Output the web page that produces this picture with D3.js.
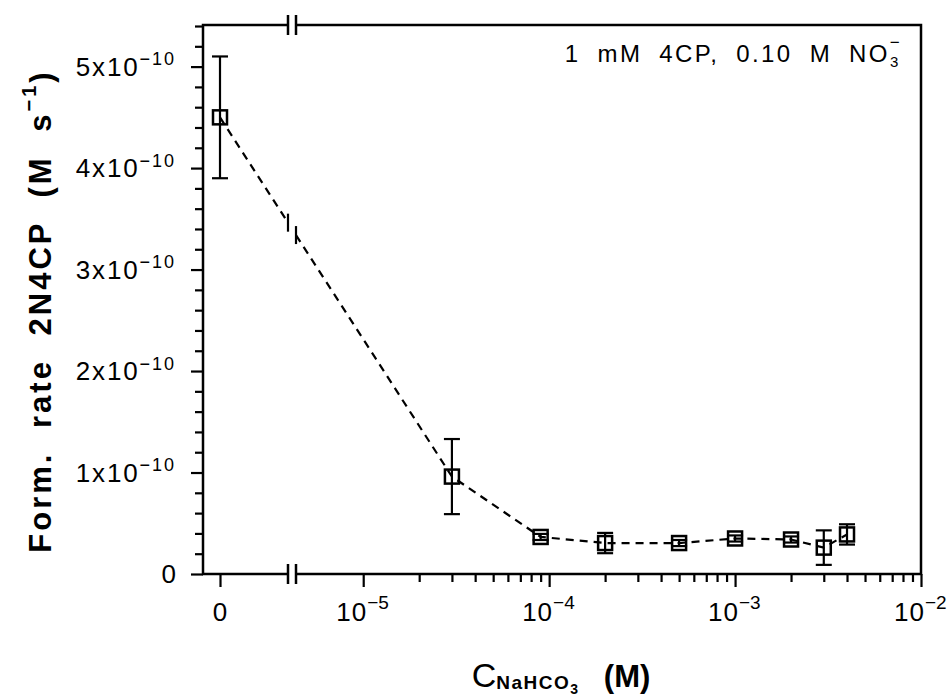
<!DOCTYPE html>
<html>
<head>
<meta charset="utf-8">
<script src="https://cdn.jsdelivr.net/npm/d3@7"></script>
<style>
body { margin: 0; background: #fff; }
</style>
</head>
<body>
<div id="chart"></div>
<script>
// data
var conc = [0, 3e-5, 9e-5, 2e-4, 5e-4, 1e-3, 2e-3, 3e-3, 4e-3];
var rate = [4.5e-10, 0.96e-10, 0.365e-10, 0.305e-10, 0.305e-10, 0.35e-10, 0.34e-10, 0.26e-10, 0.39e-10];
var rateErr = [0.6e-10, 0.37e-10, 0.03e-10, 0.1e-10, 0.03e-10, 0.03e-10, 0.03e-10, 0.17e-10, 0.1e-10];

var yMajor = [0, 1e-10, 2e-10, 3e-10, 4e-10, 5e-10];
var yMajorLabels = ["0", "1", "2", "3", "4", "5"];
var xMajor = [1e-5, 1e-4, 1e-3, 1e-2];
var xMajorExp = ["\u22125", "\u22124", "\u22123", "\u22122"];

var W = 951, H = 697;
var fLeft = 203, fRight = 921, fTop = 25, fBottom = 574;
var breakL = 288, breakR = 296;
var font = "'Liberation Sans', Arial, Helvetica, sans-serif";

var svg = d3.select("#chart").append("svg")
    .attr("width", W)
    .attr("height", H)
    .style("font-family", font);

var y = d3.scaleLinear().domain([0, 5.41e-10]).range([fBottom, fTop]);
var xZero = d3.scaleLinear().domain([-1, 4]).range([fLeft, breakL]);
var xLog = d3.scaleLog().domain([4.35e-6, 1e-2]).range([breakR, fRight]);

function xPos(c) { return c === 0 ? xZero(0) : xLog(c); }

// minor values
var yMinor = d3.range(0, 5.41e-10, 0.2e-10).filter(function(v){
    return Math.abs(v / 1e-10 - Math.round(v / 1e-10)) > 1e-6;
});
var xMinor = [];
[1e-5, 1e-4, 1e-3].forEach(function(d){
    for (var k = 2; k <= 9; k++) xMinor.push(d * k);
});

function styleAxis(g, w) {
    g.select(".domain").remove();
    g.selectAll("line").attr("stroke", "#000").attr("stroke-width", w);
}

// y axis ticks
svg.append("g").attr("transform", "translate(" + fLeft + ",0)")
    .call(d3.axisLeft(y).tickValues(yMinor).tickSize(8).tickFormat(""))
    .call(styleAxis, 2.2);
svg.append("g").attr("transform", "translate(" + fLeft + ",0)")
    .call(d3.axisLeft(y).tickValues(yMajor).tickSize(12).tickFormat(""))
    .call(styleAxis, 2.2);

// x axis ticks
svg.append("g").attr("transform", "translate(0," + fBottom + ")")
    .call(d3.axisBottom(xLog).tickValues(xMinor).tickSize(8).tickFormat(""))
    .call(styleAxis, 2.2);
svg.append("g").attr("transform", "translate(0," + fBottom + ")")
    .call(d3.axisBottom(xLog).tickValues(xMajor).tickSize(13).tickFormat(""))
    .call(styleAxis, 2.2);
svg.append("g").attr("transform", "translate(0," + fBottom + ")")
    .call(d3.axisBottom(xZero).tickValues([0]).tickSize(13).tickFormat(""))
    .call(styleAxis, 2.2);

// frame with axis breaks
var frame = svg.append("g").attr("stroke", "#000").attr("stroke-width", 2.5).attr("fill", "none");
frame.append("path").attr("d",
    "M" + breakL + "," + fTop + "H" + fLeft + "V" + fBottom + "H" + breakL +
    "M" + breakR + "," + fBottom + "H" + fRight + "V" + fTop + "H" + breakR);
[fTop, fBottom].forEach(function(yy){
    [breakL, breakR].forEach(function(xx){
        frame.append("line").attr("x1", xx).attr("x2", xx)
            .attr("y1", yy - 10).attr("y2", yy + 10);
    });
});

// y tick labels
var yl = svg.append("g").attr("font-size", 26).attr("text-anchor", "end");
yMajor.forEach(function(v, i){
    var t = yl.append("text").attr("x", 176).attr("y", y(v)).attr("dy", "0.36em");
    if (v === 0) {
        t.text("0");
    } else {
        t.append("tspan").attr("letter-spacing", 1.8).text(yMajorLabels[i] + "x10");
        t.append("tspan").attr("font-size", 18).attr("dy", "-0.6em").attr("letter-spacing", 2).text("\u221210");
    }
});

// x tick labels
var xl = svg.append("g").attr("font-size", 26);
xl.append("text").attr("x", xZero(0)).attr("y", 621).attr("text-anchor", "middle").text("0");
xMajor.forEach(function(v, i){
    var t = xl.append("text").attr("x", xLog(v) - 27).attr("y", 621);
    t.append("tspan").attr("letter-spacing", 1).text("10");
    t.append("tspan").attr("font-size", 19).attr("dy", "-0.65em").text(xMajorExp[i]);
});

// axis titles
var yt = svg.append("text")
    .attr("transform", "translate(51,311) rotate(-90)")
    .attr("text-anchor", "middle")
    .attr("font-size", 31)
    .attr("font-weight", "bold")
    .attr("letter-spacing", 3)
    .attr("word-spacing", 12);
yt.append("tspan").text("Form. rate 2N4CP (M s");
yt.append("tspan").attr("font-size", 20).attr("dy", "-0.75em").text("\u22121");
yt.append("tspan").attr("dy", "0.5em").text(")");

var xt = svg.append("text")
    .attr("x", 561).attr("y", 687)
    .attr("text-anchor", "middle")
    .attr("font-size", 34);
xt.append("tspan").text("C");
xt.append("tspan").attr("font-size", 19).attr("font-weight", "bold").attr("dy", 2).attr("letter-spacing", 1.5).text("NaHCO");
xt.append("tspan").attr("font-size", 14).attr("font-weight", "bold").attr("dy", 5).text("3");
xt.append("tspan").attr("dy", -7).attr("font-weight", "bold").attr("font-size", 31).text("\u00a0\u00a0\u00a0(M)");

// annotation
var an = svg.append("text")
    .attr("x", 902).attr("y", 62)
    .attr("text-anchor", "end")
    .attr("font-size", 24)
    .attr("letter-spacing", 2.4)
    .attr("word-spacing", 8);
an.append("tspan").text("1 mM 4CP, 0.10 M NO");
an.append("tspan").attr("font-size", 15).attr("dy", 5).text("3");
an.append("tspan").attr("font-size", 17).attr("dy", -19).attr("dx", -11).text("\u2212");

// dashed connecting line, broken at the axis break
var pts = conc.map(function(c, i){ return [xPos(c), y(rate[i])]; });
var p0 = pts[0], p1 = pts[1];
function yAt(xx) { return p0[1] + (xx - p0[0]) / (p1[0] - p0[0]) * (p1[1] - p0[1]); }
var line = d3.line();
var dash = svg.append("g").attr("fill", "none").attr("stroke", "#000").attr("stroke-width", 2.2);
dash.append("path")
    .attr("d", line([p0, [breakL, yAt(breakL)]]))
    .attr("stroke-dasharray", "8,6");
dash.append("path")
    .attr("d", line([[breakR, yAt(breakR)]].concat(pts.slice(1))))
    .attr("stroke-dasharray", "8,6");
[breakL, breakR].forEach(function(xx){
    dash.append("line").attr("x1", xx).attr("x2", xx)
        .attr("y1", yAt(xx) - 9).attr("y2", yAt(xx) + 9);
});

// error bars and markers
var pg = svg.append("g").attr("fill", "none").attr("stroke", "#000");
conc.forEach(function(c, i){
    var cx = xPos(c), hi = y(rate[i] + rateErr[i]), lo = y(rate[i] - rateErr[i]);
    var g = pg.append("g").attr("stroke-width", 2.2);
    g.append("line").attr("x1", cx).attr("x2", cx).attr("y1", hi).attr("y2", lo);
    g.append("line").attr("x1", cx - 8).attr("x2", cx + 8).attr("y1", hi).attr("y2", hi);
    g.append("line").attr("x1", cx - 8).attr("x2", cx + 8).attr("y1", lo).attr("y2", lo);
    pg.append("rect")
        .attr("x", cx - 7).attr("y", y(rate[i]) - 7)
        .attr("width", 14).attr("height", 14)
        .attr("stroke-width", 2.5);
});
</script>
</body>
</html>
